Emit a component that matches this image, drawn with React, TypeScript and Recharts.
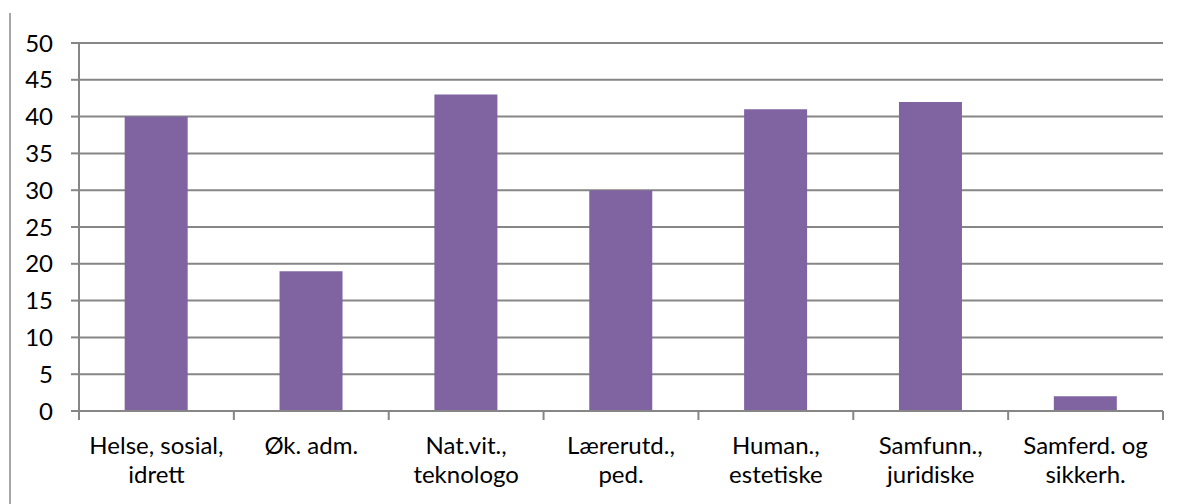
import React from "react";
import { BarChart, Bar, XAxis, YAxis, CartesianGrid } from "recharts";

// Fields of study and their counts
const categories: string[][] = [
  ["Helse, sosial,", "idrett"],
  ["Øk. adm."],
  ["Nat.vit.,", "teknologo"],
  ["Lærerutd.,", "ped."],
  ["Human.,", "estetiske"],
  ["Samfunn.,", "juridiske"],
  ["Samferd. og", "sikkerh."],
];
const values: number[] = [40, 19, 43, 30, 41, 42, 2];
const yTicks: number[] = [0, 5, 10, 15, 20, 25, 30, 35, 40, 45, 50];

const data = categories.map((lines, i) => ({
  name: lines.join(" "),
  lines,
  value: values[i],
}));

const W = 1177;
const H = 504;
const M = { top: 43, right: 14, left: 0, bottom: 0 };
const Y_AXIS_W = 79;
const X_AXIS_H = 93;
const FONT = "Lato, 'Open Sans', sans-serif";
const FONT_SIZE = 24;
const GRID = "#868686";
const BAR = "#8064A2";

const plotW = W - M.left - M.right - Y_AXIS_W;
const step = plotW / categories.length;

// Category label with tick marks at the band boundaries
const CategoryTick = (props: any) => {
  const { x, y, payload, index } = props;
  const half = payload && payload.offset ? payload.offset : step / 2;
  const entry = data[index];
  const lines: string[] = entry ? entry.lines : [String(payload.value)];
  return (
    <g>
      {index === 0 && (
        <line x1={x - half} x2={x - half} y1={y} y2={y + 9} stroke={GRID} strokeWidth={2} />
      )}
      <line x1={x + half} x2={x + half} y1={y} y2={y + 9} stroke={GRID} strokeWidth={2} />
      <text x={x} y={y} textAnchor="middle" fontFamily={FONT} fontSize={FONT_SIZE} fill="#000">
        {lines.map((ln, k) => (
          <tspan key={k} x={x} y={y + 43 + k * 29}>
            {ln}
          </tspan>
        ))}
      </text>
    </g>
  );
};

export default function App() {
  return (
    <div style={{ position: "fixed", left: 0, top: 0, width: W, height: H, background: "#fff" }}>
      <div
        style={{
          position: "absolute",
          left: 9,
          top: 13,
          height: H - 13,
          borderLeft: "2px solid #a6a6a6",
        }}
      />
      <BarChart
        width={W}
        height={H}
        data={data}
        margin={M}
        barCategoryGap="29.5%"
      >
        <CartesianGrid horizontal vertical={false} stroke={GRID} strokeWidth={2} />
        <XAxis
          dataKey="name"
          height={X_AXIS_H}
          interval={0}
          axisLine={{ stroke: GRID, strokeWidth: 2 }}
          tickLine={false}
          tickSize={0}
          tickMargin={0}
          tick={<CategoryTick />}
        />
        <YAxis
          width={Y_AXIS_W}
          domain={[0, 50]}
          ticks={yTicks}
          interval={0}
          allowDataOverflow
          axisLine={{ stroke: GRID, strokeWidth: 2 }}
          tickLine={{ stroke: GRID, strokeWidth: 2 }}
          tickSize={8}
          tickMargin={18}
          tick={{ fontFamily: FONT, fontSize: FONT_SIZE, fill: "#000" }}
        />
        <Bar dataKey="value" fill={BAR} isAnimationActive={false} />
      </BarChart>
    </div>
  );
}
